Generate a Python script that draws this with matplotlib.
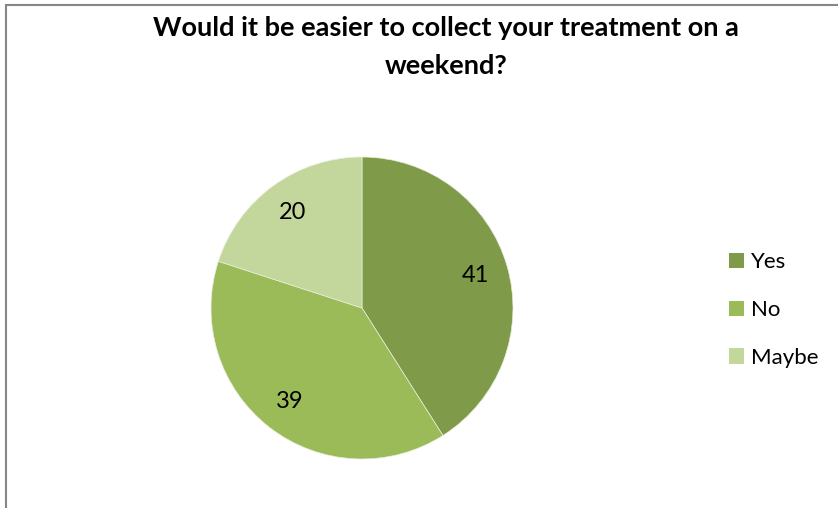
import matplotlib
matplotlib.use("Agg")
import matplotlib.pyplot as plt
from matplotlib.patches import Rectangle, Patch

categories = ["Yes", "No", "Maybe"]
values = [41, 39, 20]
colors = ["#7F9A48", "#9BBB59", "#C3D69B"]
title = "Would it be easier to collect your treatment on a\nweekend?"

W, H = 838, 508
fig = plt.figure(figsize=(W / 100, H / 100), dpi=100)
plt.rcParams['font.family'] = ['Lato', 'DejaVu Sans']

# chart-area border (cropped at right/bottom)
fig.patches.append(Rectangle((5.5 / W, -0.1), 1.2, 1 - 5.5 / H + 0.1,
                             transform=fig.transFigure, fill=False,
                             edgecolor="#868686", linewidth=1.5))

cx, cy, r = 362, 308, 151
ax = fig.add_axes([(cx - r) / W, (H - cy - r) / H, 2 * r / W, 2 * r / H])
wedges, texts = ax.pie(values, colors=colors, startangle=90, counterclock=False,
                       labels=[str(v) for v in values], labeldistance=0.78,
                       wedgeprops=dict(linewidth=0.5, edgecolor="#E8EEDC"),
                       textprops=dict(fontsize=17, color="black"))
for t in texts:
    t.set_horizontalalignment("center")
    t.set_verticalalignment("center")
ax.set_xlim(-1, 1)
ax.set_ylim(-1, 1)
ax.set_aspect("equal")

fig.text(446 / W, 1 - 16 / H, title, ha="center", va="top",
         fontsize=19.5, fontweight="bold", linespacing=1.72)

handles = [Patch(facecolor=c, edgecolor="none") for c in colors]
fig.legend(handles, categories, loc="center left",
           bbox_to_anchor=(720 / W, 1 - 310 / H), frameon=False,
           fontsize=16, handlelength=0.68, handleheight=0.68,
           handletextpad=0.3, labelspacing=1.25, borderaxespad=0)

fig.savefig("out.png", dpi=100)
